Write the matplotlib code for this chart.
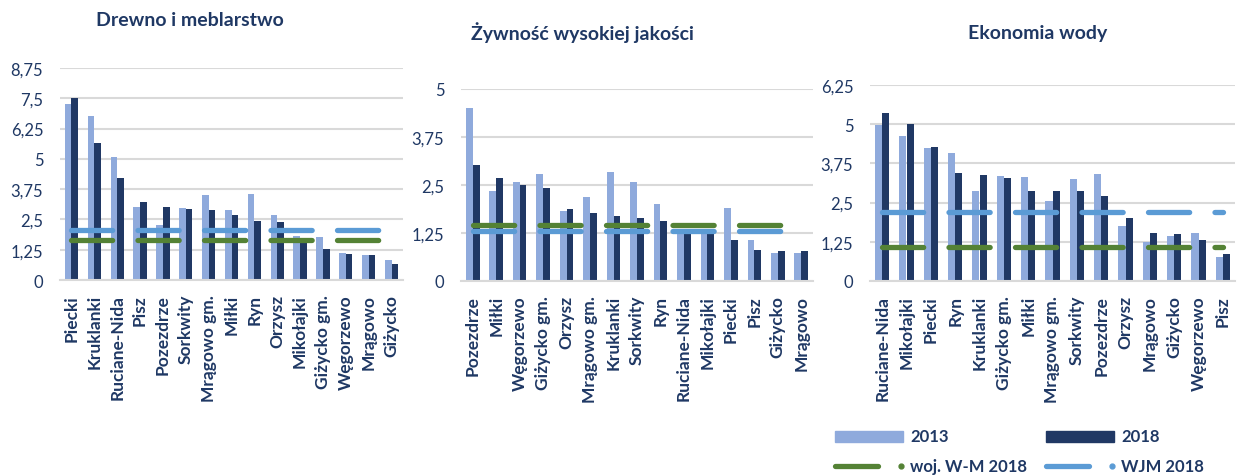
import matplotlib
matplotlib.use('Agg')
import matplotlib.pyplot as plt
from matplotlib.lines import Line2D
from matplotlib.patches import Rectangle
import numpy as np

plt.rcParams['font.family'] = ['Lato', 'DejaVu Sans']

# --- data ---
cats_drewno = ['Piecki', 'Kruklanki', 'Ruciane-Nida', 'Pisz', 'Pozezdrze', 'Sorkwity',
               'Mrągowo gm.', 'Miłki', 'Ryn', 'Orzysz', 'Mikołajki', 'Giżycko gm.',
               'Węgorzewo', 'Mrągowo', 'Giżycko']
drewno_2013 = [7.26, 6.76, 5.09, 3.02, 2.28, 2.99, 3.51, 2.89, 3.57, 2.67, 1.83, 1.76, 1.12, 1.05, 0.83]
drewno_2018 = [7.52, 5.67, 4.20, 3.22, 3.02, 2.93, 2.90, 2.67, 2.45, 2.38, 1.72, 1.26, 1.06, 1.05, 0.65]
drewno_wm = 1.66
drewno_wjm = 2.07

cats_zywnosc = ['Pozezdrze', 'Miłki', 'Węgorzewo', 'Giżycko gm.', 'Orzysz', 'Mrągowo gm.',
                'Kruklanki', 'Sorkwity', 'Ryn', 'Ruciane-Nida', 'Mikołajki', 'Piecki',
                'Pisz', 'Giżycko', 'Mrągowo']
zywnosc_2013 = [4.50, 2.34, 2.59, 2.79, 1.83, 2.20, 2.83, 2.57, 2.00, 1.36, 1.33, 1.89, 1.06, 0.72, 0.72]
zywnosc_2018 = [3.03, 2.68, 2.51, 2.43, 1.88, 1.77, 1.69, 1.63, 1.55, 1.33, 1.36, 1.06, 0.81, 0.78, 0.77]
zywnosc_wm = 1.45
zywnosc_wjm = 1.29

cats_woda = ['Ruciane-Nida', 'Mikołajki', 'Piecki', 'Ryn', 'Kruklanki', 'Giżycko gm.',
             'Miłki', 'Mrągowo gm.', 'Sorkwity', 'Pozezdrze', 'Orzysz', 'Mrągowo',
             'Giżycko', 'Węgorzewo', 'Pisz']
woda_2013 = [4.96, 4.62, 4.24, 4.09, 2.86, 3.35, 3.31, 2.54, 3.26, 3.42, 1.75, 1.23, 1.43, 1.54, 0.78]
woda_2018 = [5.37, 5.02, 4.27, 3.45, 3.39, 3.28, 2.87, 2.86, 2.86, 2.71, 2.00, 1.52, 1.51, 1.30, 0.85]
woda_wm = 1.09
woda_wjm = 2.21

ticks_drewno = [0, 1.25, 2.5, 3.75, 5, 6.25, 7.5, 8.75]
ticks_zywnosc = [0, 1.25, 2.5, 3.75, 5]
ticks_woda = [0, 1.25, 2.5, 3.75, 5, 6.25]

navy = '#1F3864'
c13 = '#8FAADC'
c18 = '#203864'
green = '#548235'
blue = '#5B9BD5'
grid = '#D9D9D9'

W, H = 1238, 477
fig = plt.figure(figsize=(W / 100, H / 100), dpi=100)


def px_axes(l, r, t, b):
    return fig.add_axes([l / W, 1 - b / H, (r - l) / W, (b - t) / H])


def fmt(v):
    return ('%g' % v).replace('.', ',')


def panel(ax, cats, v13, v18, wm, wjm, ticks, title, title_x, title_y):
    x = np.arange(len(cats))
    w = 0.29
    ax.bar(x - w / 2, v13, w, color=c13, zorder=2)
    ax.bar(x + w / 2, v18, w, color=c18, zorder=2)
    ls = (0, (7.8, 4.8))
    ax.plot([x[0], x[-1]], [wm, wm], color=green, lw=3.8, ls=ls,
            dash_capstyle='round', zorder=3)
    ax.plot([x[0], x[-1]], [wjm, wjm], color=blue, lw=3.8, ls=ls,
            dash_capstyle='round', zorder=3)
    ax.set_xlim(-0.5, len(cats) - 0.5)
    ax.set_ylim(0, ticks[-1])
    ax.set_yticks(ticks)
    ax.set_yticklabels([fmt(t) for t in ticks])
    ax.set_xticks(x)
    ax.set_xticklabels(cats, rotation=90, fontweight='bold')
    ax.tick_params(axis='y', length=0, pad=12, labelsize=12, labelcolor=navy)
    ax.tick_params(axis='x', length=0, pad=10, labelsize=12.5, labelcolor=navy)
    ax.grid(axis='y', color=grid, lw=1.5, zorder=0)
    ax.set_axisbelow(True)
    for s in ['top', 'right', 'left']:
        ax.spines[s].set_visible(False)
    ax.spines['bottom'].set_color(grid)
    ax.spines['bottom'].set_linewidth(1.5)
    fig.text(title_x / W, 1 - title_y / H, title, ha='center', va='center',
             fontsize=14, fontweight='bold', color=navy)


ax1 = px_axes(60, 403, 69, 281)
panel(ax1, cats_drewno, drewno_2013, drewno_2018, drewno_wm, drewno_wjm,
      ticks_drewno, 'Drewno i meblarstwo', 190, 21)

ax2 = px_axes(461, 813, 90, 282)
panel(ax2, cats_zywnosc, zywnosc_2013, zywnosc_2018, zywnosc_wm, zywnosc_wjm,
      ticks_zywnosc, 'Żywność wysokiej jakości', 582, 33)

ax3 = px_axes(870, 1235, 86, 282)
panel(ax3, cats_woda, woda_2013, woda_2018, woda_wm, woda_wjm,
      ticks_woda, 'Ekonomia wody', 1038, 33)

# --- legend ---
def fx(px):
    return px / W


def fy(py):
    return 1 - py / H


for x0, col, lab in [(835, c13, '2013'), (1046, c18, '2018')]:
    fig.add_artist(Rectangle((fx(x0), fy(443)), 68 / W, 11 / H, color=col,
                             transform=fig.transFigure))
    fig.text(fx(x0 + 75), fy(437.5), lab, ha='left', va='center', fontsize=12,
             fontweight='bold', color=navy)

for x0, col, lab in [(835, green, 'woj. W-M 2018'), (1046, blue, 'WJM 2018')]:
    fig.add_artist(Line2D([fx(x0), fx(x0 + 43)], [fy(467), fy(467)], color=col, lw=3.8,
                          solid_capstyle='round', transform=fig.transFigure))
    fig.add_artist(Line2D([fx(x0 + 66)], [fy(467)], color=col, marker='o', ms=3.5,
                          transform=fig.transFigure))
    fig.text(fx(x0 + 75), fy(467), lab, ha='left', va='center', fontsize=12,
             fontweight='bold', color=navy)

fig.savefig('out.png', dpi=100)
